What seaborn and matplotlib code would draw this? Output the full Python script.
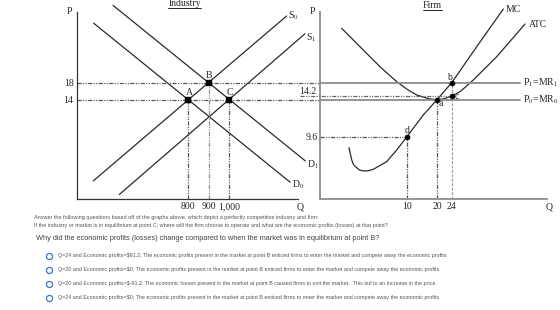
import numpy as np
import matplotlib
matplotlib.use("Agg")
import matplotlib.pyplot as plt
import matplotlib.transforms as mtransforms
from matplotlib.lines import Line2D
import seaborn as sns

# ---------------- data ----------------
# Industry panel
ind_q_ticks = [800, 900, 1000]
ind_q_labels = ["800", "900", "1,000"]
ind_p_ticks = [14, 18]
ind_p_labels = ["14", "18"]
S0_q = [333, 1283]
S0_p = [-5.1, 33.7]
S1_q = [461, 1373]
S1_p = [-8.3, 29.5]
D0_q = [335, 1300]
D0_p = [32.0, -5.4]
D1_q = [430, 1375]
D1_p = [36.2, -0.4]
ind_pt_names = ["A", "B", "C"]
ind_pt_q = [800, 900, 1000]
ind_pt_p = [14, 18, 14]

# Firm panel
firm_q_ticks = [10, 20, 24]
firm_q_labels = ["10", "20", "24"]
P0 = 14
P1 = 18
MC_q = [3.34, 3.66, 3.86, 4.23, 4.56, 5.0, 5.54, 6.15, 7.69, 8.85, 10, 15.48, 20, 24, 31.14, 38.74]
MC_p = [7.94, 6.04, 5.34, 4.85, 4.49, 4.34, 4.37, 4.60, 5.78, 7.59, 9.6, 12.20, 14, 18, 26.47, 35.34]
ATC_q = [2.50, 4.99, 6.92, 8.85, 10.0, 13.30, 16.6, 17.69, 20, 21.9, 24, 26.37, 28.09, 30.17, 36.86, 44.94]
ATC_p = [30.8, 25.69, 21.76, 18.24, 16.2, 14.49, 14.09, 14.04, 14.0, 14.05, 14.2, 15.43, 16.91, 18.64, 24.12, 31.81]
firm_pt_names = ["a", "b", "c", "d"]
firm_pt_q = [20, 24, 24, 10]
firm_pt_p = [14, 18, 14.2, 9.6]

question_lines = [
    "Answer the following questions based off of the graphs above, which depict a perfectly competitive industry and firm:",
    "If the industry or market is in equilibrium at point C, where will the firm choose to operate and what are the economic profits (losses) at that point?",
]
question_main = "Why did the economic profits (losses) change compared to when the market was in equilibrium at point B?"
options = [
    "Q=24 and Economic profits=$91.2; The economic profits present in the market at point B enticed firms to enter the market and compete away the economic profits",
    "Q=20 and Economic profits=$0; The economic profits present in the market at point B enticed firms to enter the market and compete away the economic profits",
    "Q=20 and Economic profits=$-91.2; The economic losses present in the market at point B caused firms to exit the market.  This led to an increase in the price.",
    "Q=24 and Economic profits=$0; The economic profits present in the market at point B enticed firms to enter the market and compete away the economic profits",
]

# ---------------- style ----------------
sns.set_theme(style="white")
plt.rcParams['font.family'] = ['Liberation Serif', 'DejaVu Serif']
plt.rcParams['mathtext.fontset'] = 'stix'
plt.rcParams['lines.scale_dashes'] = False

W, H = 560, 310
fig = plt.figure(figsize=(W / 100, H / 100), dpi=100)
fig.patch.set_facecolor("white")


def rect(x0, y0, x1, y1):
    return [x0 / W, 1 - y1 / H, (x1 - x0) / W, (y1 - y0) / H]


axL = fig.add_axes(rect(77, 12, 298, 199))
axR = fig.add_axes(rect(320, 12, 546.7, 199))

DDOT = (0, (3, 1, 0.8, 1, 0.8, 1))
FS = 7
LINE_C = "#2a2a2a"

# ---------------- Industry ----------------
axL.set_xlim(253, 1339)
axL.set_ylim(-9.36, 34.64)
for q, p in [(S0_q, S0_p), (S1_q, S1_p), (D0_q, D0_p), (D1_q, D1_p)]:
    sns.lineplot(x=q, y=p, ax=axL, color=LINE_C, lw=0.9, sort=False,
                 estimator=None, clip_on=False)
for p in ind_p_ticks:
    axL.axhline(p, xmin=0, xmax=(320 - 77) / 221, color="#555555", lw=0.9,
                ls=DDOT, clip_on=False)
ybot = axL.get_ylim()[0]
for name, q, p in zip(ind_pt_names, ind_pt_q, ind_pt_p):
    col = "#8a8a8a" if name == "B" else "#555555"
    axL.vlines(q, ybot, p, color=col, lw=0.9, ls=DDOT)
sns.scatterplot(x=ind_pt_q, y=ind_pt_p, ax=axL, marker="s", s=14,
                color="black", edgecolor="black", zorder=5)
for name, q, p in zip(ind_pt_names, ind_pt_q, ind_pt_p):
    axL.annotate(name, (q, p), xytext=(0.5, 5), textcoords="offset points",
                 ha="center", va="center", fontsize=FS)
axL.annotate(r"S$_0$", (S0_q[1], S0_p[1]), xytext=(1, 0), textcoords="offset points",
             ha="left", va="center", fontsize=FS, annotation_clip=False)
axL.annotate(r"S$_1$", (S1_q[1], S1_p[1]), xytext=(1, -2.5), textcoords="offset points",
             ha="left", va="center", fontsize=FS, annotation_clip=False)
axL.annotate(r"D$_1$", (D1_q[1], D1_p[1]), xytext=(1, -2.5), textcoords="offset points",
             ha="left", va="center", fontsize=FS, annotation_clip=False)
axL.annotate(r"D$_0$", (D0_q[1], D0_p[1]), xytext=(1.5, -1.5), textcoords="offset points",
             ha="left", va="center", fontsize=FS, annotation_clip=False)

axL.set_xticks(ind_q_ticks, ind_q_labels)
axL.set_yticks(ind_p_ticks, ind_p_labels)
axL.tick_params(length=0, pad=2.5, labelsize=FS)
sns.despine(ax=axL)
for s in ("left", "bottom"):
    axL.spines[s].set_color("#333333")
    axL.spines[s].set_linewidth(0.9)
axL.set_xlabel("")
axL.set_ylabel("")
axL.text(-0.02, 1.0, "P", transform=axL.transAxes, ha="right", va="center", fontsize=FS)
axL.text(1.01, -0.02, "Q", transform=axL.transAxes, ha="center", va="top", fontsize=FS)

# ---------------- Firm ----------------
qk = [-10, 0, 10, 20, 24, 60]
qp = [-86.7, 0, 86.7, 117, 131.7, 257.7]
pk = [-10, 0, 9.6, 14, 14.2, 18, 60]
pp = [-64.6, 0, 62, 99.3, 103, 116.3, 294.8]
axR.set_xscale("function", functions=(lambda v: np.interp(v, qk, qp),
                                      lambda v: np.interp(v, qp, qk)))
axR.set_yscale("function", functions=(lambda v: np.interp(v, pk, pp),
                                      lambda v: np.interp(v, pp, pk)))
axR.set_xlim(0, 51.14)
axR.set_ylim(0, 34.64)

sns.lineplot(x=MC_q, y=MC_p, ax=axR, color=LINE_C, lw=0.9, sort=False,
             estimator=None, clip_on=False)
sns.lineplot(x=ATC_q, y=ATC_p, ax=axR, color=LINE_C, lw=0.9, sort=False,
             estimator=None, clip_on=False)

line_end = (520 - 320) / 226.7
axR.axhline(P1, xmin=0, xmax=line_end, color="#8c8c8c", lw=1.3)
axR.axhline(P0, xmin=0, xmax=line_end, color="#8c8c8c", lw=1.3)


def ax_frac(ax, q, p):
    return ax.transAxes.inverted().transform(ax.transData.transform((q, p)))


cfrac = ax_frac(axR, 24, 14.2)[0]
axR.axhline(14.2, xmin=(300 - 320) / 226.7, xmax=cfrac, color="#666666", lw=0.9,
            ls=DDOT, clip_on=False)
dfrac = ax_frac(axR, 10, 9.6)[0]
axR.axhline(9.6, xmin=0, xmax=dfrac, color="#555555", lw=0.9, ls=DDOT)
axR.vlines(10, 0, 9.6, color="#555555", lw=0.9, ls=DDOT)
axR.vlines(20, 0, 14, color="#555555", lw=0.9, ls=DDOT)
axR.vlines(24, 0, 18, color="#9a9a9a", lw=0.9, ls=(0, (2, 1.2)))

sns.scatterplot(x=firm_pt_q, y=firm_pt_p, ax=axR, marker="o", s=14,
                color="black", edgecolor="black", zorder=5, clip_on=False)
offs = {"a": (2.7, -2.6), "b": (-1.8, 4), "c": (3.5, -0.5), "d": (0, 4.5)}
for name, q, p in zip(firm_pt_names, firm_pt_q, firm_pt_p):
    axR.annotate(name, (q, p), xytext=offs[name], textcoords="offset points",
                 ha="center", va="center", fontsize=FS)

trR = mtransforms.blended_transform_factory(axR.transAxes, axR.transData)
axR.text(-0.015, 14.2, "14.2", transform=trR, ha="right", va="bottom", fontsize=FS)
axR.text(-0.012, 9.6, "9.6", transform=trR, ha="right", va="center", fontsize=FS)
axR.text(line_end + 0.015, P1, r"P$_1$=MR$_1$", transform=trR, ha="left", va="center",
         fontsize=FS, clip_on=False)
axR.text(line_end + 0.015, P0, r"P$_0$=MR$_0$", transform=trR, ha="left", va="center",
         fontsize=FS, clip_on=False)
axR.annotate("MC", (MC_q[-1], MC_p[-1]), xytext=(1.5, 0), textcoords="offset points",
             ha="left", va="center", fontsize=FS, annotation_clip=False)
axR.annotate("ATC", (ATC_q[-1], ATC_p[-1]), xytext=(2.5, 0), textcoords="offset points",
             ha="left", va="center", fontsize=FS, annotation_clip=False)

axR.set_xticks(firm_q_ticks, firm_q_labels)
axR.set_yticks([])
axR.tick_params(length=0, pad=2, labelsize=FS)
sns.despine(ax=axR)
for s in ("left", "bottom"):
    axR.spines[s].set_color("#8c8c8c")
    axR.spines[s].set_linewidth(1.3)
axR.set_xlabel("")
axR.set_ylabel("")
axR.text(-0.02, 1.0, "P", transform=axR.transAxes, ha="right", va="center", fontsize=FS)
axR.text(1.01, -0.02, "Q", transform=axR.transAxes, ha="center", va="top", fontsize=FS)

# ---------------- titles (underlined) ----------------
t1 = fig.text(184.7 / W, 1 - 3.5 / H, "Industry", ha="center", va="center", fontsize=FS)
t2 = fig.text(432.5 / W, 1 - 6 / H, "Firm", ha="center", va="center", fontsize=FS)
fig.canvas.draw()
r = fig.canvas.get_renderer()
for t in (t1, t2):
    bb = t.get_window_extent(r)
    fig.add_artist(Line2D([bb.x0, bb.x1], [bb.y0 + 0.5, bb.y0 + 0.5], color="black",
                          lw=0.6, transform=mtransforms.IdentityTransform()))

# ---------------- question text ----------------
SANS = ["Liberation Sans", "DejaVu Sans"]
fig.text(34 / W, 1 - 218 / H, question_lines[0], fontsize=3.95, color="#555555",
         family=SANS, ha="left", va="center")
fig.text(34 / W, 1 - 225 / H, question_lines[1], fontsize=3.95, color="#555555",
         family=SANS, ha="left", va="center")
fig.text(36 / W, 1 - 238 / H, question_main, fontsize=5.3, color="#444444",
         family=SANS, ha="left", va="center")
opt_y = [255.5, 269.5, 283.5, 297.5]
for y, s in zip(opt_y, options):
    fig.add_artist(Line2D([49 / W], [1 - y / H], marker="o", markersize=4.4,
                          markerfacecolor="white", markeredgecolor="#3a78c2",
                          markeredgewidth=0.9, transform=fig.transFigure))
    fig.text(58 / W, 1 - y / H, s, fontsize=3.9, color="#555555", family=SANS,
             ha="left", va="center")

fig.savefig("out.png", dpi=100, facecolor="white")
